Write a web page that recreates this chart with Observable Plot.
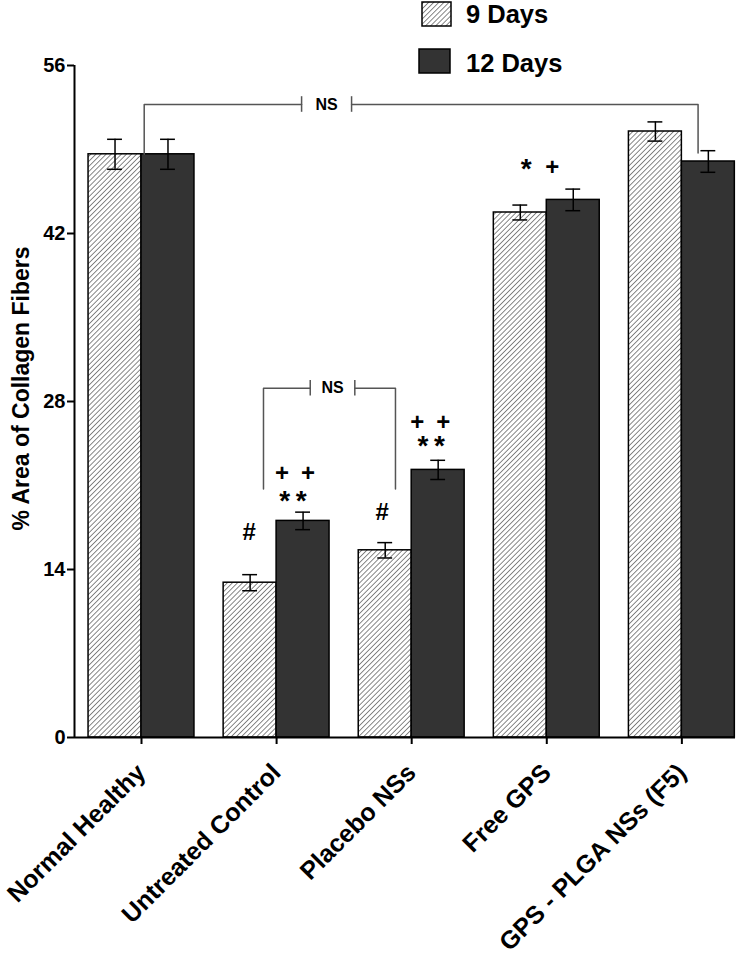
<!DOCTYPE html>
<html><head><meta charset="utf-8">
<script src="https://cdn.jsdelivr.net/npm/d3@7"></script>
<script src="https://cdn.jsdelivr.net/npm/@observablehq/plot@0.6"></script>
<style>
body{margin:0;background:#fff;font-family:"Liberation Sans",Arial,sans-serif;}
#wrap{position:relative;width:750px;height:960px;}
#legend{position:absolute;left:410px;top:0;}
</style></head><body>
<div id="wrap"><div id="chart"></div><div id="legend"></div></div>
<script>
const categories = ["Normal Healthy","Untreated Control","Placebo NSs","Free GPS","GPS - PLGA NSs (F5)"];
const series = ["9 Days","12 Days"];
const mean9  = [48.6, 12.9, 15.6, 43.75, 50.5];
const err9   = [1.25, 0.67, 0.64, 0.62, 0.8];
const mean12 = [48.6, 18.05, 22.3, 44.8, 48.0];
const err12  = [1.25, 0.73, 0.8, 0.9, 0.9];
const yTicks = [0, 14, 28, 42, 56];
const yLabel = "% Area of Collagen Fibers";
// significance marks: group index, series, label, y value
const annGroup  = [1, 1, 1, 2, 2, 2, 3, 3];
const annSeries = ["9 Days", "12 Days", "12 Days", "9 Days", "12 Days", "12 Days", "9 Days", "12 Days"];
const annLabel  = ["#", "**", "++", "#", "**", "++", "*", "+"];
const annY      = [17.1, 19.7, 22.0, 18.75, 24.25, 26.3, 47.35, 47.5];
// NS brackets
const brFrom = [0, 1], brTo = [4, 2], brY = [52.75, 29.1], brLabel = ["NS", "NS"];

// layout (pixels) for annotation symbols
const annDx = [-1, -10, -8, -3, -7, -8, 6, -21];
const symText = s => s === "**" ? "*\u2009*" : s === "++" ? "+\u2002+" : s;
const symSize = s => s.includes("*") ? 28 : 24;

const barW = 0.392;
const off = s => s === "9 Days" ? -barW/2 : s === "12 Days" ? barW/2 : 0;
const bars = categories.flatMap((c, i) => [
  {i, series: "9 Days", mean: mean9[i], err: err9[i]},
  {i, series: "12 Days", mean: mean12[i], err: err12[i]}
]);
const b9 = bars.filter(d => d.series === "9 Days");
const b12 = bars.filter(d => d.series === "12 Days");
const cx = d => d.i + off(d.series);
const cap = 0.055;

const ann = annLabel.map((label, k) => ({x: annGroup[k] + off(annSeries[k]), y: annY[k], label: symText(label), size: symSize(label), dx: annDx[k]}));
const annStar = ann.filter(d => d.size === 28);
const annOther = ann.filter(d => d.size !== 28);

// bracket geometry derived from groups
const br = brY.map((y, k) => {
  const top = k === 0;
  const xl = top ? brFrom[k] + 0.02 : brFrom[k] - 0.097;
  const xr = top ? brTo[k] + 0.12 : brTo[k] - 0.12;
  const yl = top ? mean12[brFrom[k]] : 20.7;
  const yr = top ? mean12[brTo[k]] + 0.7 : 20.7;
  const mid = top ? 1.37 : 1.414;
  const half = top ? 0.185 : 0.165;
  return {y, xl, xr, yl, yr, mid, gl: mid - half, gr: mid + half, label: brLabel[k]};
});
const brLines = br.flatMap((b, k) => [
  [{x: b.xl, y: b.yl, k: k*2}, {x: b.xl, y: b.y, k: k*2}, {x: b.gl, y: b.y, k: k*2}],
  [{x: b.gr, y: b.y, k: k*2+1}, {x: b.xr, y: b.y, k: k*2+1}, {x: b.xr, y: b.yr, k: k*2+1}]
]).flat();
const brTicks = br.flatMap(b => [{x: b.gl, y: b.y}, {x: b.gr, y: b.y}]);

const xmin = -0.496, xmax = 4.397;

function withDx(list) {
  return function(index, scales, values, dims, ctx, next) {
    const g = next(index, scales, values, dims, ctx);
    d3.select(g).selectAll("text").each(function(i) { this.setAttribute("dx", list[i].dx); });
    return g;
  };
}

const svg = Plot.plot({
  width: 750, height: 960,
  marginLeft: 74, marginRight: 15, marginTop: 65, marginBottom: 223,
  style: {fontFamily: "'Liberation Sans', Arial, sans-serif", color: "#000", background: "#fff"},
  x: {type: "linear", domain: [xmin, xmax], axis: null},
  y: {domain: [0, 56], axis: null},
  marks: [
    Plot.rect(b9, {x1: d => d.i - barW, x2: d => d.i, y1: 0, y2: "mean", fill: "url(#hatch)", stroke: "#000", strokeWidth: 1.5}),
    Plot.rect(b12, {x1: d => d.i, x2: d => d.i + barW, y1: 0, y2: "mean", fill: "#333", stroke: "#000", strokeWidth: 1.5}),
    Plot.ruleX(bars, {x: cx, y1: d => d.mean - d.err, y2: d => d.mean + d.err, stroke: "#000", strokeWidth: 1.5}),
    Plot.ruleY(bars, {y: d => d.mean + d.err, x1: d => cx(d) - cap, x2: d => cx(d) + cap, stroke: "#000", strokeWidth: 1.5}),
    Plot.ruleY(bars, {y: d => d.mean - d.err, x1: d => cx(d) - cap, x2: d => cx(d) + cap, stroke: "#000", strokeWidth: 1.5}),
    Plot.line(brLines, {x: "x", y: "y", z: "k", stroke: "#555", strokeWidth: 1.5}),
    Plot.ruleX(brTicks, {x: "x", y1: d => d.y - 0.65, y2: d => d.y + 0.65, stroke: "#555", strokeWidth: 1.5}),
    Plot.text(br, {x: "mid", y: "y", text: "label", fontSize: 16, fontWeight: "bold", fill: "#000"}),
    Plot.text(annOther, {x: "x", y: "y", text: "label", fontSize: 24, fontWeight: "bold", fill: "#000", render: withDx(annOther)}),
    Plot.text(annStar, {x: "x", y: "y", text: "label", fontSize: 28, fontWeight: "bold", fill: "#000", render: withDx(annStar)}),
    Plot.ruleX([xmin], {y1: 0, y2: 56, stroke: "#000", strokeWidth: 2}),
    Plot.ruleY([0], {stroke: "#000", strokeWidth: 2}),
    Plot.axisY({ticks: yTicks, tickSize: 7, tickPadding: 2, fontSize: 20, fontWeight: "bold", stroke: "#000", strokeWidth: 2,
      label: yLabel, labelAnchor: "center", labelArrow: "none", labelOffset: 62}),
    Plot.axisX({ticks: [0,1,2,3,4], tickFormat: i => categories[i], tickSize: 7, tickRotate: -45, tickPadding: 24,
      fontSize: 25, fontWeight: "bold", stroke: "#000", strokeWidth: 2, label: null})
  ]
});
// hatch pattern definition
function addHatch(sel, id) {
  const pat = sel.append("pattern").attr("id", id).attr("patternUnits", "userSpaceOnUse")
    .attr("width", 3.6).attr("height", 3.6).attr("patternTransform", "rotate(45)");
  pat.append("rect").attr("width", 3.6).attr("height", 3.6).attr("fill", "#fff");
  pat.append("line").attr("x1", 0).attr("y1", 0).attr("x2", 0).attr("y2", 3.6).attr("stroke", "#555").attr("stroke-width", 1.4);
}
addHatch(d3.select(svg).insert("defs", ":first-child"), "hatch");
// y label styling (shifted up to match the reference)
d3.select(svg).selectAll("[aria-label='y-axis label'] text").attr("font-size", 23).attr("font-weight", "bold").attr("dx", 13);
document.getElementById("chart").appendChild(svg);

// legend
const leg = d3.select("#legend").append("svg").attr("width", 330).attr("height", 82)
  .style("font-family", "'Liberation Sans', Arial, sans-serif");
addHatch(leg.append("defs"), "lhatch");
series.forEach((s, k) => {
  const y0 = k === 0 ? 2 : 49;
  const x0 = k === 0 ? 12 : 9;
  const w = k === 0 ? 29 : 31;
  leg.append("rect").attr("x", x0).attr("y", y0).attr("width", w).attr("height", 24)
    .attr("fill", k === 0 ? "url(#lhatch)" : "#333").attr("stroke", "#000").attr("stroke-width", 1.5);
  leg.append("text").attr("x", 56).attr("y", k === 0 ? 23 : 72).attr("font-size", 25.5).attr("font-weight", "bold")
    .attr("fill", "#000").text(s);
});
</script>
</body></html>
